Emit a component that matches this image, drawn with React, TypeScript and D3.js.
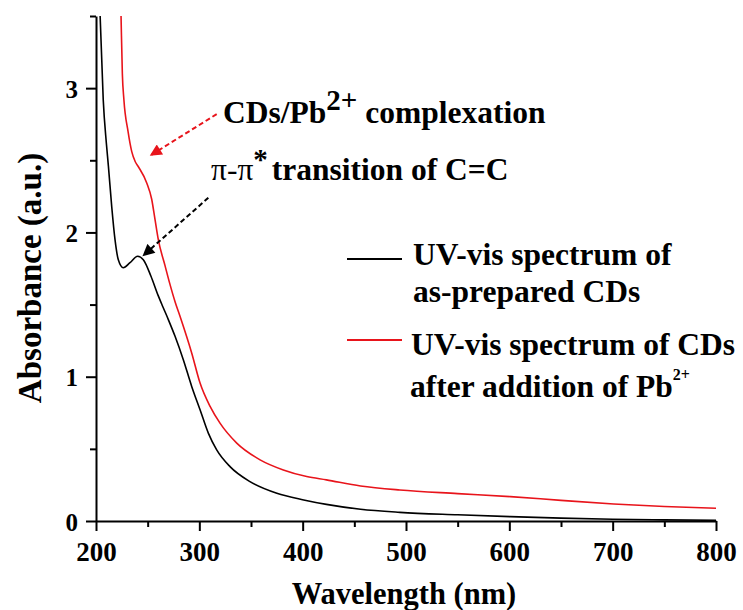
import React, { useEffect, useRef } from "react";
import * as d3 from "d3";

const WIDTH = 743;
const HEIGHT = 610;
const MARGIN = { top: 16, right: 27, bottom: 89, left: 96 };
const FONT = "Liberation Serif";

// as-prepared CDs (black)
const blackWl = [201, 202.5, 204, 207, 210, 212, 215.2, 218.4, 221.6, 226.4, 232.9, 240.3, 245.8, 253, 260.3, 265, 270, 276.5, 284.5, 292.6, 300.7, 308.7, 316.8, 329.7, 349, 375, 401, 423, 456, 494, 550, 601, 650, 700, 750, 800];
const blackAbs = [4.4, 3.9, 3.5, 2.92, 2.62, 2.46, 2.18, 1.95, 1.81, 1.755, 1.79, 1.835, 1.81, 1.7, 1.56, 1.48, 1.396, 1.28, 1.118, 0.933, 0.771, 0.609, 0.493, 0.377, 0.273, 0.192, 0.146, 0.115, 0.081, 0.06, 0.043, 0.03, 0.02, 0.012, 0.008, 0.005];

// CDs + Pb2+ (red)
const redWl = [222, 224.2, 225.5, 227, 231, 234.6, 238, 241, 249, 253.9, 257.1, 260.3, 266.8, 271.6, 276.5, 281.3, 292.6, 300.7, 310.4, 320, 336.2, 358.8, 381.3, 403.9, 423, 456, 494, 550, 601, 650, 701, 750, 800];
const redAbs = [4.2, 3.51, 3.1, 2.92, 2.7, 2.56, 2.49, 2.455, 2.345, 2.23, 2.09, 1.95, 1.77, 1.64, 1.52, 1.419, 1.165, 0.956, 0.794, 0.678, 0.54, 0.424, 0.354, 0.308, 0.285, 0.243, 0.215, 0.19, 0.169, 0.143, 0.118, 0.1, 0.088];

const xMajor = [200, 300, 400, 500, 600, 700, 800];
const xMinor = [250, 350, 450, 550, 650, 750];
const yMajor = [0, 1, 2, 3];
const yMinor = [0.5, 1.5, 2.5, 3.5];

const seriesColors = ["#000000", "#e8141b"];

// annotation arrows: [fromWl, fromAbs, toWl, toAbs]
const redArrow = [316.8, 2.82, 253, 2.535];
const blackArrow = [308.7, 2.24, 245.8, 1.84];

const App = () => {
  const axesRef = useRef<SVGGElement | null>(null);

  const x = d3.scaleLinear().domain([200, 800]).range([MARGIN.left, WIDTH - MARGIN.right]);
  const y = d3.scaleLinear().domain([0, 3.5]).range([HEIGHT - MARGIN.bottom, MARGIN.top]);

  const line = d3
    .line<[number, number]>()
    .x((d) => x(d[0]))
    .y((d) => y(d[1]))
    .curve(d3.curveMonotoneX);

  const blackPts = blackWl.map((w, i) => [w, blackAbs[i]] as [number, number]);
  const redPts = redWl.map((w, i) => [w, redAbs[i]] as [number, number]);

  useEffect(() => {
    document.body.style.margin = "0";
    const g = d3.select(axesRef.current);
    g.selectAll("*").remove();
    const y0 = HEIGHT - MARGIN.bottom;

    const xa = g.append("g").attr("transform", `translate(0,${y0})`);
    xa.call(d3.axisBottom(x).tickValues(xMajor).tickSize(10).tickSizeOuter(0).tickFormat(d3.format("d")));
    xa.selectAll("text").attr("y", 40).attr("dy", 0).style("font-size", "27px");
    g.append("g")
      .attr("transform", `translate(0,${y0})`)
      .call(d3.axisBottom(x).tickValues(xMinor).tickSize(6).tickSizeOuter(0).tickFormat(() => ""))
      .select(".domain").remove();

    const ya = g.append("g").attr("transform", `translate(${MARGIN.left},0)`);
    ya.call(d3.axisLeft(y).tickValues(yMajor).tickSize(10).tickSizeOuter(0).tickPadding(8).tickFormat(d3.format("d")));
    ya.selectAll("text").attr("dy", "0.36em").style("font-size", "25px");
    g.append("g")
      .attr("transform", `translate(${MARGIN.left},0)`)
      .call(d3.axisLeft(y).tickValues(yMinor).tickSize(6).tickSizeOuter(0).tickFormat(() => ""))
      .select(".domain").remove();

    g.selectAll("g").attr("font-family", FONT);
    g.selectAll(".domain").attr("stroke-width", 2);
    g.selectAll(".tick line").attr("stroke-width", 2);
    g.selectAll("text").attr("font-family", FONT).attr("font-weight", "bold").attr("fill", "#000");
  }, []);

  const arrow = (a: number[], color: string, id: string) => (
    <line
      x1={x(a[0])}
      y1={y(a[1])}
      x2={x(a[2])}
      y2={y(a[3])}
      stroke={color}
      strokeWidth={2}
      strokeDasharray="5,3"
      markerEnd={`url(#${id})`}
    />
  );

  return (
    <svg width={WIDTH} height={HEIGHT} style={{ display: "block", background: "#fff" }}>
      <defs>
        <clipPath id="plot">
          <rect x={MARGIN.left} y={MARGIN.top} width={WIDTH - MARGIN.left - MARGIN.right} height={HEIGHT - MARGIN.top - MARGIN.bottom} />
        </clipPath>
        {["red", "black"].map((c, i) => (
          <marker key={c} id={`head-${c}`} viewBox="0 0 10 10" refX="9" refY="5" markerWidth="7" markerHeight="6" orient="auto" markerUnits="strokeWidth">
            <path d="M0,0 L10,5 L0,10 z" fill={i === 0 ? seriesColors[1] : "#000"} />
          </marker>
        ))}
      </defs>
      <g clipPath="url(#plot)">
        <path d={line(blackPts) || ""} fill="none" stroke={seriesColors[0]} strokeWidth={1.6} />
        <path d={line(redPts) || ""} fill="none" stroke={seriesColors[1]} strokeWidth={1.6} />
      </g>
      <g ref={axesRef} />

      {arrow(redArrow, seriesColors[1], "head-red")}
      {arrow(blackArrow, "#000", "head-black")}

      <g fontFamily={FONT} fontWeight="bold" fill="#000">
        <text x={223} y={123} fontSize={31.5}>
          CDs/Pb<tspan dy={-13} fontSize={29}>2+</tspan>
          <tspan dy={13}> complexation</tspan>
        </text>
        <text x={211} y={180} fontSize={31.5}>
          <tspan fontWeight="normal">π-π</tspan>
          <tspan dy={-11} fontSize={29}>*</tspan>
          <tspan dy={11} dx={4}>transition of C=C</tspan>
        </text>

        <line x1={347} x2={402} y1={259} y2={259} stroke={seriesColors[0]} strokeWidth={2} />
        <text x={413} y={265} fontSize={31.5}>UV-vis spectrum of</text>
        <text x={413} y={302} fontSize={31.5}>as-prepared CDs</text>
        <line x1={347} x2={402} y1={340} y2={340} stroke={seriesColors[1]} strokeWidth={2} />
        <text x={411} y={355} fontSize={31.5}>UV-vis spectrum of CDs</text>
        <text x={410} y={397} fontSize={31.5}>
          after addition of Pb<tspan dy={-17} fontSize={16}>2+</tspan>
        </text>

        <text x={404} y={604} fontSize={30.5} textAnchor="middle">Wavelength (nm)</text>
        <text transform={`translate(41,${278}) rotate(-90)`} fontSize={33} textAnchor="middle">
          Absorbance (a.u.)
        </text>
      </g>
    </svg>
  );
};

export default App;
